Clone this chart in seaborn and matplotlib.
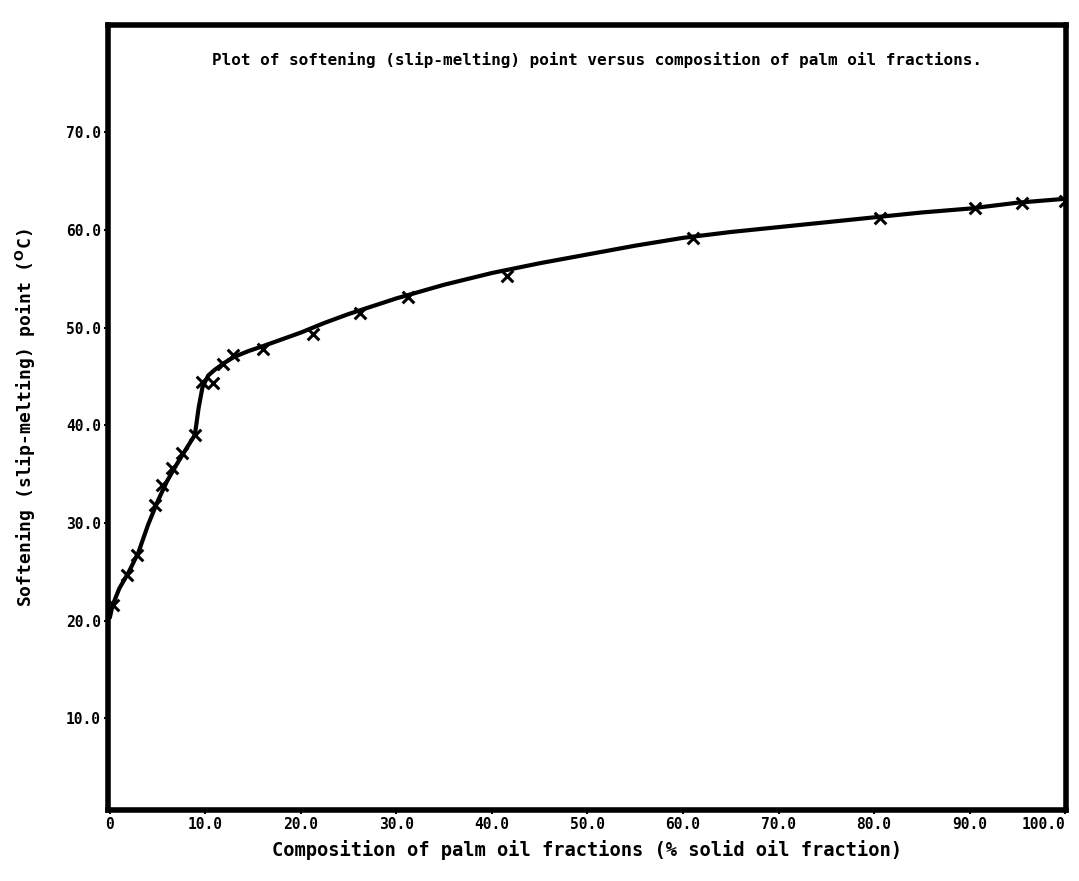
import matplotlib
matplotlib.use("Agg")
import matplotlib.pyplot as plt
import seaborn as sns
import pandas as pd

# Measured data points (x markers)
pts_x = [0.3, 1.8, 2.8, 4.7, 5.5, 6.5, 7.6, 8.9, 9.6, 10.8, 11.8, 12.9, 16.0,
         21.3, 26.2, 31.2, 41.6, 61.0, 80.6, 90.6, 95.5, 100.0]
pts_y = [21.6, 24.7, 26.7, 31.8, 33.9, 35.6, 37.2, 39.0, 44.4, 44.3, 46.3, 47.2,
         47.8, 49.4, 51.5, 53.1, 55.3, 59.2, 61.2, 62.3, 62.8, 63.0]

# Drawn smooth curve
curve_x = [0, 0.3, 1, 2, 3, 4, 5, 6, 7, 8, 8.9, 9.3, 9.7, 10.3, 11, 12, 13, 14.5,
           16, 18, 20, 22.5, 25, 27.5, 30, 35, 40, 45, 50, 55, 60, 65, 70, 75,
           80, 85, 90, 95, 100]
curve_y = [20.3, 21.6, 23.3, 25.0, 27.0, 29.8, 32.2, 34.3, 36.0, 37.6, 39.0, 41.8,
           43.9, 45.1, 45.7, 46.4, 47.0, 47.6, 48.1, 48.8, 49.5, 50.5, 51.4, 52.2,
           53.0, 54.4, 55.6, 56.6, 57.5, 58.4, 59.2, 59.8, 60.3, 60.8, 61.3, 61.8,
           62.2, 62.8, 63.2]

x_ticks = [0, 10, 20, 30, 40, 50, 60, 70, 80, 90, 100]
x_tick_labels = ["0", "10.0", "20.0", "30.0", "40.0", "50.0", "60.0", "70.0",
                 "80.0", "90.0", "100.0"]
y_ticks = [10, 20, 30, 40, 50, 60, 70]
y_tick_labels = ["10.0", "20.0", "30.0", "40.0", "50.0", "60.0", "70.0"]

title = "Plot of softening (slip-melting) point versus composition of palm oil fractions."
xlabel = "Composition of palm oil fractions (% solid oil fraction)"
ylabel = r"Softening (slip-melting) point ($^{\mathrm{O}}$C)"

sns.set_theme(style="white")
plt.rcParams["font.family"] = ["DejaVu Sans Mono", "DejaVu Sans"]
plt.rcParams["font.weight"] = "bold"
plt.rcParams["mathtext.default"] = "regular"
for k in ["text.color", "axes.labelcolor", "xtick.color", "ytick.color"]:
    plt.rcParams[k] = "black"

fig = plt.figure(figsize=(10.79, 8.81), dpi=100)
ax = fig.add_axes([0.100, 0.0806, 0.888, 0.891])

curve = pd.DataFrame({"x": curve_x, "y": curve_y})
pts = pd.DataFrame({"x": pts_x, "y": pts_y})

sns.lineplot(data=curve, x="x", y="y", ax=ax, color="black", linewidth=3.0,
             sort=True, estimator=None)
sns.scatterplot(data=pts, x="x", y="y", ax=ax, marker="x", color="black",
                s=70, linewidth=2.2, zorder=3)

ax.set_xlim(-0.2, 100.1)
ax.set_ylim(0.6, 81)

ax.set_xticks(x_ticks)
ax.set_xticklabels(x_tick_labels, fontsize=10.5, fontweight="bold")
ax.get_xticklabels()[-1].set_horizontalalignment("right")
ax.set_yticks(y_ticks)
ax.set_yticklabels(y_tick_labels, fontsize=10.5, fontweight="bold")
ax.tick_params(axis="both", direction="out", length=3, width=1.5, color="black",
               pad=2, bottom=True, left=True)

for s in ax.spines.values():
    s.set_visible(True)
    s.set_color("black")
    s.set_linewidth(4)

ax.set_xlabel(xlabel, fontsize=13.5, fontweight="bold", labelpad=6)
ax.set_ylabel(ylabel, fontsize=13, fontweight="bold", labelpad=20)
ax.text(0.51, 0.955, title, transform=ax.transAxes, ha="center", va="center",
        fontsize=11.5, fontweight="bold")

fig.savefig("out.png", dpi=100, facecolor="white")
